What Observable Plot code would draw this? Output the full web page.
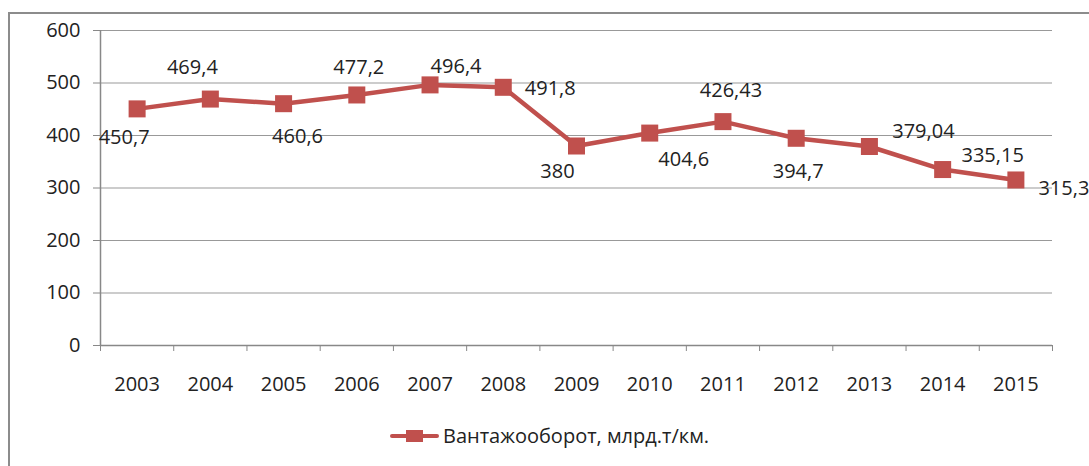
<!DOCTYPE html>
<html>
<head>
<meta charset="utf-8">
<script src="https://cdn.jsdelivr.net/npm/d3@7"></script>
<script src="https://cdn.jsdelivr.net/npm/@observablehq/plot@0.6"></script>
<style>
  html, body { margin: 0; padding: 0; background: #fff; }
  #wrap { position: relative; width: 1089px; height: 466px; overflow: hidden; font-family: "Open Sans", sans-serif; }
  #frame { position: absolute; left: 8px; top: 12px; width: 1200px; height: 600px; border-left: 2px solid #8c8c8c; border-top: 2px solid #8c8c8c; box-sizing: border-box; }
  #chart { position: absolute; left: 0; top: 0; }
  #legend { position: absolute; left: 390px; top: 422px; display: flex; align-items: center; font-size: 20px; color: #222; white-space: nowrap; }
  #legend .sw { position: relative; flex: 0 0 49px; width: 49px; height: 18px; margin-right: 4px; }
  #legend .sw .ln { position: absolute; left: 0; top: 7px; width: 49px; height: 4px; background: #C0504D; border-radius: 2px; }
  #legend .sw .mk { position: absolute; left: 16px; top: 3px; width: 17px; height: 12px; background: #C0504D; }
</style>
</head>
<body>
<div id="wrap">
  <div id="frame"></div>
  <div id="chart"></div>
  <div id="legend"><div class="sw"><div class="ln"></div><div class="mk"></div></div><span id="legendText"></span></div>
</div>
<script>
const years = ["2003","2004","2005","2006","2007","2008","2009","2010","2011","2012","2013","2014","2015"];
const values = [450.7, 469.4, 460.6, 477.2, 496.4, 491.8, 380, 404.6, 426.43, 394.7, 379.04, 335.15, 315.3];
const valueLabels = ["450,7","469,4","460,6","477,2","496,4","491,8","380","404,6","426,43","394,7","379,04","335,15","315,3"];
const yTicks = [0, 100, 200, 300, 400, 500, 600];
const seriesName = "Вантажооборот, млрд.т/км.";

// label offsets (px) relative to each point
const labelOffsets = [[-13,29],[-18,-31],[14,33],[2,-27],[26,-18],[47,1],[-19,26],[34,27],[8,-31],[2,33],[54,-15],[50,-14],[48,9]];

const color = "#C0504D";
const idx = d3.range(years.length);
const data = idx.map(i => ({i, v: values[i], label: valueLabels[i]}));

const labelMarks = data.map((d, k) => Plot.text([d], {
  x: "i", y: "v", text: "label",
  dx: labelOffsets[k][0], dy: labelOffsets[k][1],
  fill: "#222", fontSize: 20
}));

const chart = Plot.plot({
  width: 1089,
  height: 410,
  marginLeft: 100,
  marginRight: 37,
  marginTop: 30,
  marginBottom: 65,
  style: {fontFamily: "Open Sans, sans-serif", fontSize: "20px", color: "#222", overflow: "visible", background: "transparent"},
  x: {type: "linear", domain: [-0.5, years.length - 0.5]},
  y: {domain: [0, 600]},
  marks: [
    Plot.gridY(yTicks.filter(t => t > 0), {stroke: "#999", strokeOpacity: 1, strokeWidth: 1}),
    Plot.ruleY([0], {stroke: "#888", strokeWidth: 1.5}),
    Plot.ruleX([-0.5], {stroke: "#888", strokeWidth: 1.5}),
    Plot.axisY({ticks: yTicks, tickSize: 7, tickPadding: 13, stroke: "#888", fill: "#222", label: null, fontSize: 20}),
    Plot.axisX({ticks: d3.range(-0.5, years.length, 1), tickSize: 6, tickFormat: () => "", stroke: "#888", label: null}),
    Plot.axisX({ticks: idx, tickSize: 0, tickPadding: 31, tickFormat: i => years[i], fill: "#222", label: null, fontSize: 20}),
    Plot.line(data, {x: "i", y: "v", stroke: color, strokeWidth: 4.5}),
    Plot.dot(data, {x: "i", y: "v", symbol: "square", r: 9.6, fill: color, stroke: "none"}),
    ...labelMarks
  ]
});
document.getElementById("chart").appendChild(chart);
document.getElementById("legendText").textContent = seriesName;
</script>
</body>
</html>
